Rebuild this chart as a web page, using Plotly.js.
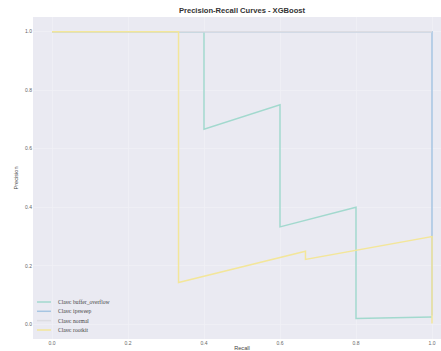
<!DOCTYPE html>
<html>
<head>
<meta charset="utf-8">
<script src="https://cdn.plot.ly/plotly-3.0.1.min.js"></script>
<style>
  html, body { margin: 0; padding: 0; background: #ffffff; overflow: hidden; }
  #wrap { width: 441px; height: 351px; overflow: hidden; }
  #chart { width: 451px; height: 351px; }
</style>
</head>
<body>
<div id="wrap"><div id="chart"></div></div>
<script>
// Precision-recall points per class (recall, precision), as produced by the classifier
const classNames = ["buffer_overflow", "ipsweep", "normal", "rootkit"];
const bufferRecall    = [1.0, 0.8, 0.8, 0.6, 0.6, 0.4, 0.4, 0.0];
const bufferPrecision = [0.025, 0.02, 0.4, 0.333, 0.75, 0.667, 1.0, 1.0];
const ipsweepRecall    = [1.0, 1.0, 0.0];
const ipsweepPrecision = [0.03, 1.0, 1.0];
const normalRecall    = [1.0, 0.0];
const normalPrecision = [1.0, 1.0];
const rootkitRecall    = [1.0, 1.0, 0.667, 0.667, 0.333, 0.333, 0.0];
const rootkitPrecision = [0.003, 0.3, 0.222, 0.25, 0.143, 1.0, 1.0];
const tickValues = [0.0, 0.2, 0.4, 0.6, 0.8, 1.0];
const tickLabels = ["0.0", "0.2", "0.4", "0.6", "0.8", "1.0"];

const colors = ["#a2d9ce", "#a6c5e2", "#dcdce2", "#f3e69a"];
const recalls = [bufferRecall, ipsweepRecall, normalRecall, rootkitRecall];
const precisions = [bufferPrecision, ipsweepPrecision, normalPrecision, rootkitPrecision];

const traces = classNames.map((name, i) => ({
  type: "scatter",
  mode: "lines",
  x: recalls[i],
  y: precisions[i],
  name: "Class: " + name,
  line: { color: colors[i], width: 1.5 },
  hoverinfo: "skip"
}));

// Hand-built legend in the lower-left corner of the plot area
const plotW = 418, plotH = 322;
const legendRowsPx = [302, 311.3, 320.6, 330];
const shapes = [];
const annotations = [];
classNames.forEach((name, i) => {
  const yp = (339 - legendRowsPx[i]) / plotH;
  shapes.push({
    type: "line", xref: "paper", yref: "paper",
    x0: (37 - 33) / plotW, x1: (51 - 33) / plotW, y0: yp, y1: yp,
    line: { color: colors[i], width: 1.5 }
  });
  annotations.push({
    xref: "paper", yref: "paper", x: (56 - 33) / plotW, y: yp,
    xanchor: "left", yanchor: "middle", showarrow: false,
    text: "Class: " + name,
    font: { family: "Liberation Serif, DejaVu Serif, serif", size: 5.6, color: "#444444" }
  });
});

const layout = {
  width: 451,
  height: 351,
  margin: { l: 33, r: 0, t: 17, b: 12, pad: 0 },
  paper_bgcolor: "#ffffff",
  plot_bgcolor: "#eaeaf2",
  showlegend: false,
  title: {
    text: "<b>Precision-Recall Curves - XGBoost</b>",
    x: 0.5, xref: "paper", xanchor: "center",
    y: 1 - 10 / 351, yref: "container", yanchor: "middle",
    font: { family: "Liberation Sans, Arial, sans-serif", size: 7.6, color: "#333333" }
  },
  xaxis: {
    range: [-0.05, 1.05],
    tickvals: tickValues, ticktext: tickLabels,
    showgrid: true, gridcolor: "#f1f1f6", gridwidth: 0.7,
    zeroline: false, showline: false, ticks: "",
    tickfont: { family: "Liberation Sans, Arial, sans-serif", size: 5, color: "#666666" },
    title: { text: "Recall", standoff: 9,
      font: { family: "Liberation Sans, Arial, sans-serif", size: 5.6, color: "#444444" } },
    fixedrange: true
  },
  yaxis: {
    range: [-0.05, 1.05],
    tickvals: tickValues, ticktext: tickLabels,
    showgrid: true, gridcolor: "#f1f1f6", gridwidth: 0.7,
    zeroline: false, showline: false, ticks: "",
    tickfont: { family: "Liberation Sans, Arial, sans-serif", size: 5, color: "#666666" },
    title: { text: "Precision", standoff: 6,
      font: { family: "Liberation Sans, Arial, sans-serif", size: 5.6, color: "#444444" } },
    fixedrange: true
  },
  shapes: shapes,
  annotations: annotations
};

Plotly.newPlot("chart", traces, layout, { staticPlot: true, displayModeBar: false });
</script>
</body>
</html>
